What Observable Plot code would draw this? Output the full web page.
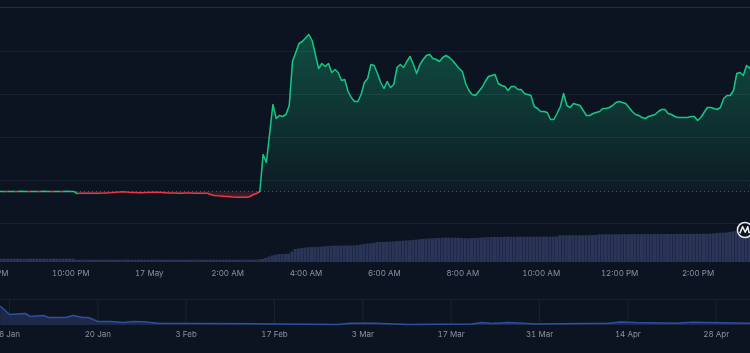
<!DOCTYPE html>
<html>
<head>
<meta charset="utf-8">
<script src="https://cdn.jsdelivr.net/npm/d3@7"></script>
<script src="https://cdn.jsdelivr.net/npm/@observablehq/plot@0.6"></script>
<style>
html,body{margin:0;padding:0;background:#0d1421;}
#wrap{position:relative;width:750px;height:353px;overflow:hidden;background:#0d1421;font-family:Inter,sans-serif;filter:blur(0.35px);}
#wrap svg{position:absolute;left:0;background:transparent;}
</style>
</head>
<body>
<div id="wrap"></div>
<script>
// Values. The chart shows no price axis, so price and volume are on an arbitrary scale.
const priceOpen = 32;
const priceFlat = [32.1,32.1,31.9,32.1,32.1,31.9,32.1,32.2,32.1,31.9,32.1,32.1,31.9,32.1,32.2,32.1,31.9,32.1,32.1,31.9,32.1,32.2,32.1,32.1];
const priceDip = [30,30.2,30.2,30.3,30.3,30.3,30.3,30.3,30.4,30.6,30.8,31.1,31.3,31.5,31.7,31.6,31.3,31.1,31,30.8,30.8,31,31.1,31.2,31.3,31.2,31,30.8,30.6,30.5,30.4,30.3,30.3,30.4,30.5,30.4,30.3,30.3,30.3,30.3,30.2,29,28,27.7,27.5,27.2,27,26.7,26.4,26.3,26.3,26.3,26.3,27,29,30];
const priceJump = [32,69,61,90,119,105,108,107,109,118,162,171,180,182,185.5,189,183,169,155,160,157,160,151,154,151,143,144,132,126,122,122,129,141,145,159,158];
const priceRest = [150,141,135,142,136,139,156,159,156,162,167,159,150,159,164,168,169,165,164,162,166,168,166,163,159,155,152,140,133,129,128,132,136,142,147,148,149,140,138,137,133,137,137,134,134,130,129,128,117,115,112,112,111,104,104,110,117,130,118,116,120,119,118,113,108,108,110,111,112,115,115,116,118,121,122,121,120,116,112,109,108,106,105,107,108,109,112,114,114,110,109,107,106,106,106,106,107,107,103,106,111,116,116,115,114,116,125,128,128,133,150,151,148,158,155,166];
const volumeEarly = [3.3,3.3,3.3,3.3,3.3,3.3,3.3,3.3,3.3,3.3,3.3,3.3,3.3,3.3,3.3,3.3,3.3,3.3,3.3,3.3,3.3,3.3,3.3,3.3,2.3,2.3,2.3,2.3,2.3,2.3,2.3,2.3,2.3,2.3,2.3,2.3,2.3,2.3,2.3,2.3,2.3,2.3,2.3,2.3,2.3,2.3,2.3,2.3,2.3,2.3,2.3,2.3,2.3,2.3,2.3,2.3,2.3,2.3,2.3,2.3,2.3,2.3,2.3,2.3,2.3,2.3,2.3,2.3,2.3,2.3,2.3,2.3,2.3,2.3,2.3,2.3,2.3,2.3];
const volumeRise = [2.4,2.5,2.7,3,4,5.5,6.5,7.2,7.9,8,8.2,8.3,10.5,13,13.5,14,14.5,14.7,14.9,15,15.2,15.4,15.6,16,16.2,16.3,16.3,16.4,16.4,16.5,16.5,16.6,16.9,17.4,18,18.3,18.7,19];
const volumeLate = [20,20,20,20.2,20.4,20.5,20.8,21,21.3,21.5,21.7,22,22.4,22.8,23,23.3,23.6,23.7,23.8,24,24.2,24.3,24.3,24.3,24.3,24.2,24,23.8,23.7,23.9,24.1,24.3,24.5,24.7,25,25,25,25.1,25.1,25.1,25.2,25.2,25.2,25.2,25.3,25.3,25.3,25.3,25.3,25.3,25.4,25.4,25.4,25.4,25.5,25.5,26.7,26.7,26.7,26.8,26.8,26.8,26.8,26.9,26.9,26.9,26.9,27,27.7,27.7,27.7,27.7,27.7,27.8,27.8,27.8,27.8,27.8,27.9,27.9,27.9,27.9,27.9,27.9,28,28,28,28,28,28,28,28.1,28.1,28.1,28.1,28.1,28.1,28.2,28.2,28.2,28.2,28.2,28.3,28.5,29,29.2,29.3,29.5,30,30.7,30.9,31.2,31.5,31.7,32,32.3];
const navDays = [-1.4,0,2.5,3.3,5.4,6.2,8.9,10.1,11.6,12.5,14,16,18,19.7,21.2,23.5,41.8,52,54,58,63.2,73.3,74.9,76.5,79.1,83.4,95,96.8,99.2,105.6,108.2,117.4];
const navValues = [19,11,12,9,10,8,8,10,8,8,4,4,3,4,3.7,2.3,1.6,1,2.3,2.2,1,1.6,3,2,3,1.6,2.3,3.6,3,2.3,3.3,2.3];
const gridLevels = [0,43,86,129,172,216];
const mainTickHours = [-2,0,2,4,6,8,10,12,14,16];
const navTickDays = [0,14,28,42,56,70,84,98,112];

const HOUR = 36e5, DAY = 864e5, STEP = 3e5;
const first = Date.UTC(2025,4,16,20,9,20);
const domainStart = Date.UTC(2025,4,16,20,12,23);
const prices = [...priceFlat, ...priceDip, ...priceJump, ...priceRest];
const volumes = [...volumeEarly, ...volumeRise, ...volumeLate];
const rows = prices.map((v,i)=>({t:new Date(first+i*STEP), v, vol:volumes[i]}));
const xDomain = [new Date(domainStart), new Date(domainStart+750/39.2*HOUR)];
const tenPM = Date.UTC(2025,4,16,22);
const fmtMain = d => d.getUTCHours()===0 ? d3.utcFormat("%-d %b")(d) : d3.utcFormat("%-I:%M %p")(d);
const mainTicks = mainTickHours.map(h=>new Date(tenPM+h*HOUR)).filter(d=>d<=xDomain[1]);
const green="#16c784", red="#ea3943";
const wrap=document.getElementById("wrap");
const defs = () => {
  const ns="http://www.w3.org/2000/svg";
  const g=document.createElementNS(ns,"defs");
  g.innerHTML=`<linearGradient id="up" x1="0" y1="0" x2="0" y2="1"><stop offset="0" stop-color="${green}" stop-opacity="0.32"/><stop offset="1" stop-color="${green}" stop-opacity="0.04"/></linearGradient><linearGradient id="down" x1="0" y1="0" x2="0" y2="1"><stop offset="0" stop-color="${red}" stop-opacity="0.08"/><stop offset="1" stop-color="${red}" stop-opacity="0.3"/></linearGradient>`;
  return g;
};
const price = Plot.plot({
  width:750,height:285,marginTop:0,marginRight:0,marginBottom:20,marginLeft:0,
  style:{background:"transparent",overflow:"hidden"},
  x:{type:"utc",domain:xDomain,label:null},
  y:{domain:[-42,223],axis:null},
  marks:[
    defs,
    Plot.ruleY(gridLevels,{stroke:d=>d===216?"#252c3a":"#1a2230",strokeWidth:1}),
    Plot.areaY(rows,{x:"t",y1:priceOpen,y2:d=>Math.max(d.v,priceOpen),fill:"url(#up)",curve:"linear"}),
    Plot.areaY(rows,{x:"t",y1:priceOpen,y2:d=>Math.min(d.v,priceOpen),fill:"url(#down)",curve:"linear"}),
    Plot.ruleY([priceOpen],{stroke:"#4d5565",strokeDasharray:"1,3",strokeWidth:1}),
    Plot.line(rows,{x:"t",y:"v",z:null,stroke:d=>d.v>=priceOpen?green:red,strokeWidth:1.5,strokeLinejoin:"round"}),
    Plot.axisX({ticks:mainTicks,tickFormat:fmtMain,tickSize:0,tickPadding:5,fontSize:8,fontFamily:"Inter",fill:"#8a92a3",color:"#8a92a3",label:null,anchor:"bottom"})
  ]
});
price.style.top="0px";
wrap.appendChild(price);

const volume = Plot.plot({
  width:750,height:285,marginTop:0,marginRight:0,marginBottom:20,marginLeft:0,
  style:{background:"transparent",overflow:"hidden"},
  x:{type:"utc",domain:xDomain,axis:null},
  y:{domain:[-3,262],axis:null},
  marks:[
    Plot.rectY(rows,{x1:d=>new Date(+d.t-STEP/2),x2:d=>new Date(+d.t+STEP/2),y1:0,y2:"vol",fill:"#2a3558",insetRight:0.2})
  ]
});
volume.style.top="0px";
wrap.appendChild(volume);

const navRows = navDays.map((d,i)=>({t:new Date(Date.UTC(2025,0,6)+d*DAY), v:navValues[i]}));
const navStart = Date.UTC(2025,0,6)-9/6.31*DAY;
const nav = Plot.plot({
  width:750,height:63,marginTop:9,marginRight:0,marginBottom:28,marginLeft:0,
  style:{background:"transparent",overflow:"hidden"},
  x:{type:"utc",domain:[new Date(navStart),new Date(navStart+750/6.31*DAY)],label:null},
  y:{domain:[0,26],axis:null},
  marks:[
    Plot.ruleY([26],{stroke:"#1a2230"}),
    Plot.ruleX(navTickDays.map(d=>new Date(Date.UTC(2025,0,6)+d*DAY)),{stroke:"#1a2230"}),
    Plot.areaY(navRows,{x:"t",y1:0,y2:"v",fill:"#1e2848"}),
    Plot.line(navRows,{x:"t",y:"v",stroke:"#2c4f9e",strokeWidth:1.5}),
    Plot.axisX({ticks:navTickDays.map(d=>new Date(Date.UTC(2025,0,6)+d*DAY)),tickFormat:d3.utcFormat("%-d %b"),tickSize:0,tickPadding:5.5,fontSize:8,fontFamily:"Inter",fill:"#8a92a3",color:"#8a92a3",label:null,anchor:"bottom"})
  ]
});
nav.style.top="290px";
wrap.appendChild(nav);

// Watermark logo
const logo=document.createElementNS("http://www.w3.org/2000/svg","svg");
logo.setAttribute("width","20");logo.setAttribute("height","20");logo.setAttribute("viewBox","0 0 20 20");
logo.style.left="734.5px";logo.style.top="219.7px";
logo.innerHTML=`<circle cx="10" cy="10" r="7.6" fill="#0d1421" stroke="#e8eaee" stroke-width="1.5"/><path d="M4.8 13.4 L7.6 6.6 L10.2 12.2 L12.8 6.6 L14 12.6 L16.6 12.4" fill="none" stroke="#e8eaee" stroke-width="1.5" stroke-linejoin="round"/>`;
wrap.appendChild(logo);
</script>
</body>
</html>
